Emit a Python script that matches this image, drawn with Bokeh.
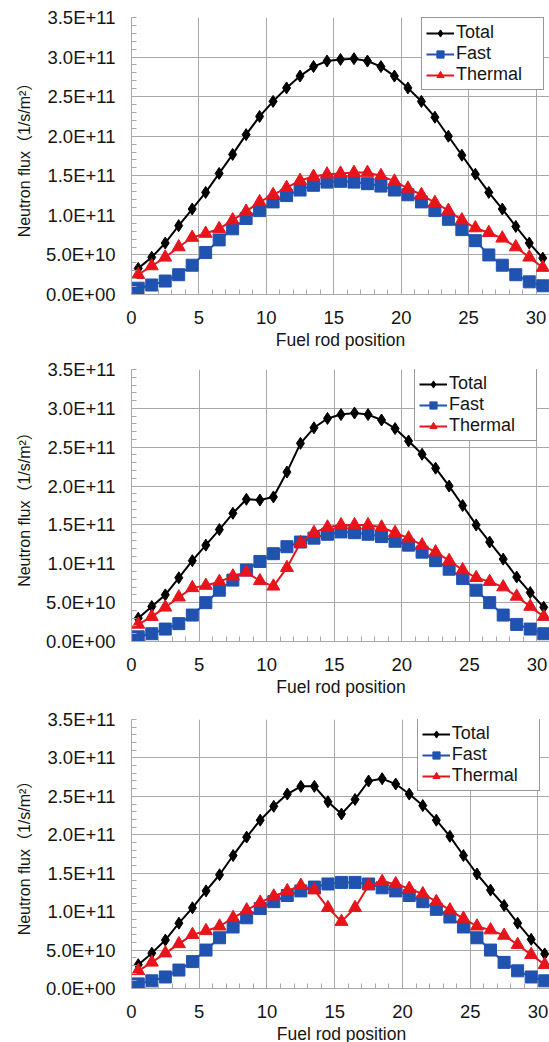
from bokeh.plotting import figure
from bokeh.layouts import column
from bokeh.models import Range1d, FixedTicker
from bokeh.embed import file_html
from bokeh.resources import INLINE

# ---------------- data ----------------
FLUX_UNIT = 1e11  # values below are in units of 1E+11 1/s/m^2

rod_positions = [0.5, 1.5, 2.5, 3.5, 4.5, 5.5, 6.5, 7.5, 8.5, 9.5,
                 10.5, 11.5, 12.5, 13.5, 14.5, 15.5, 16.5, 17.5, 18.5, 19.5,
                 20.5, 21.5, 22.5, 23.5, 24.5, 25.5, 26.5, 27.5, 28.5, 29.5, 30.5]

series_names = ["Total", "Fast", "Thermal"]

# Panel 1
total_1 = [0.33, 0.47, 0.65, 0.87, 1.08, 1.29, 1.53, 1.77, 2.02, 2.25,
           2.44, 2.61, 2.76, 2.88, 2.95, 2.97, 2.98, 2.95, 2.88, 2.76,
           2.61, 2.44, 2.24, 2.00, 1.76, 1.52, 1.29, 1.08, 0.86, 0.65, 0.46]
fast_1 = [0.08, 0.12, 0.17, 0.25, 0.37, 0.53, 0.69, 0.83, 0.96, 1.06,
          1.17, 1.25, 1.32, 1.38, 1.42, 1.43, 1.42, 1.40, 1.37, 1.32,
          1.26, 1.17, 1.06, 0.95, 0.82, 0.68, 0.50, 0.37, 0.25, 0.16, 0.11]
thermal_1 = [0.25, 0.36, 0.47, 0.60, 0.72, 0.77, 0.83, 0.94, 1.05, 1.17,
             1.26, 1.35, 1.44, 1.49, 1.52, 1.53, 1.54, 1.54, 1.50, 1.43,
             1.34, 1.26, 1.16, 1.06, 0.94, 0.84, 0.78, 0.71, 0.60, 0.47, 0.34]

# Panel 2
total_2 = [0.30, 0.45, 0.60, 0.82, 1.04, 1.24, 1.44, 1.65, 1.83, 1.82,
           1.86, 2.18, 2.55, 2.75, 2.87, 2.92, 2.94, 2.92, 2.85, 2.74,
           2.58, 2.41, 2.23, 2.00, 1.75, 1.50, 1.28, 1.06, 0.83, 0.63, 0.44]
fast_2 = [0.06, 0.10, 0.16, 0.23, 0.34, 0.50, 0.66, 0.79, 0.92, 1.03,
          1.13, 1.22, 1.28, 1.33, 1.38, 1.41, 1.40, 1.38, 1.35, 1.29,
          1.24, 1.15, 1.04, 0.93, 0.81, 0.66, 0.50, 0.34, 0.22, 0.16, 0.10]
thermal_2 = [0.22, 0.32, 0.44, 0.57, 0.69, 0.72, 0.77, 0.84, 0.89, 0.78,
             0.71, 0.95, 1.27, 1.40, 1.47, 1.50, 1.50, 1.50, 1.47, 1.40,
             1.33, 1.24, 1.15, 1.04, 0.92, 0.82, 0.77, 0.70, 0.58, 0.45, 0.32]

# Panel 3
total_3 = [0.31, 0.46, 0.63, 0.85, 1.05, 1.27, 1.48, 1.73, 1.97, 2.19,
           2.37, 2.53, 2.63, 2.63, 2.43, 2.27, 2.46, 2.70, 2.73, 2.66,
           2.53, 2.38, 2.19, 1.98, 1.73, 1.49, 1.28, 1.08, 0.85, 0.64, 0.45]
fast_3 = [0.06, 0.10, 0.15, 0.24, 0.35, 0.50, 0.66, 0.80, 0.92, 1.04,
          1.13, 1.21, 1.27, 1.32, 1.36, 1.38, 1.38, 1.36, 1.31, 1.27,
          1.21, 1.13, 1.03, 0.93, 0.80, 0.66, 0.50, 0.34, 0.23, 0.15, 0.10]
thermal_3 = [0.23, 0.34, 0.46, 0.58, 0.70, 0.75, 0.81, 0.92, 1.02, 1.12,
             1.20, 1.27, 1.34, 1.28, 1.05, 0.87, 1.05, 1.34, 1.39, 1.36,
             1.30, 1.23, 1.13, 1.02, 0.91, 0.81, 0.76, 0.69, 0.57, 0.44, 0.31]

x_ticks = [0, 5, 10, 15, 20, 25, 30]
x_tick_labels = ["0", "5", "10", "15", "20", "25", "30"]
y_ticks = [0.0, 0.5e11, 1.0e11, 1.5e11, 2.0e11, 2.5e11, 3.0e11, 3.5e11]
y_tick_labels = ["0.0E+00", "5.0E+10", "1.0E+11", "1.5E+11",
                 "2.0E+11", "2.5E+11", "3.0E+11", "3.5E+11"]

x_label = "Fuel rod position"
y_label = "Neutron flux\uff081/s/m\u00b2\uff09"

# ---------------- style ----------------
FONT = "Liberation Sans"
YLABEL_FONT = "'Liberation Sans', 'Noto Sans CJK JP', sans-serif"
GRID = "#a8a8a8"
TXT = "#151515"
colors = {"Total": "#000000", "Fast": "#2052b0", "Thermal": "#e8141c"}


def make_panel(total, fast, thermal, frame_w, frame_h, left, bottom, legend_xy):
    p = figure(frame_width=frame_w, frame_height=frame_h,
               x_range=Range1d(0, 31), y_range=Range1d(0, 3.5e11),
               output_backend="svg", toolbar_location=None,
               min_border_left=left, min_border_right=0,
               min_border_top=17, min_border_bottom=bottom)
    p.background_fill_color = "white"
    p.border_fill_color = "white"
    p.outline_line_color = None

    vals = {"Total": total, "Fast": fast, "Thermal": thermal}
    for name in series_names:
        ys = [v * FLUX_UNIT for v in vals[name]]
        c = colors[name]
        p.line(rod_positions, ys, line_color=c, line_width=2, legend_label=name)
        if name == "Total":
            p.scatter(rod_positions, ys, marker="diamond", size=12,
                      fill_color=c, line_color=c, legend_label=name)
        elif name == "Fast":
            p.scatter(rod_positions, ys, marker="square", size=12,
                      fill_color=c, line_color=c, legend_label=name)
        else:
            p.scatter(rod_positions, ys, marker="triangle", size=13,
                      fill_color=c, line_color=c, legend_label=name)

    # axes
    p.xaxis.ticker = FixedTicker(ticks=x_ticks, minor_ticks=list(range(0, 32)))
    p.xaxis.major_label_overrides = {t: l for t, l in zip(x_ticks, x_tick_labels)}
    p.yaxis.ticker = FixedTicker(ticks=y_ticks,
                                 minor_ticks=[i * 1e10 for i in range(0, 36)])
    p.yaxis.major_label_overrides = {t: l for t, l in zip(y_ticks, y_tick_labels)}

    for ax in (p.xaxis, p.yaxis):
        ax.axis_line_color = GRID
        ax.axis_line_width = 1
        ax.major_tick_in = 0
        ax.major_tick_out = 0
        ax.minor_tick_in = 5
        ax.minor_tick_out = 0
        ax.minor_tick_line_color = GRID
        ax.major_label_text_font = FONT
        ax.major_label_text_font_size = "18.5px"
        ax.major_label_text_color = TXT
        ax.axis_label_text_font_style = "normal"
        ax.axis_label_text_color = TXT

    p.xaxis.axis_label = x_label
    p.yaxis.axis_label = y_label
    p.xaxis.axis_label_text_font = FONT
    p.yaxis.axis_label_text_font = YLABEL_FONT
    p.xaxis.axis_label_text_font_size = "17.5px"
    p.yaxis.axis_label_text_font_size = "16px"
    p.xaxis.major_label_standoff = 16
    p.xaxis.axis_label_standoff = 3
    p.yaxis.major_label_standoff = 16
    p.yaxis.axis_label_standoff = 10

    p.xgrid.ticker = FixedTicker(ticks=x_ticks)
    p.ygrid.ticker = FixedTicker(ticks=y_ticks)
    for g in (p.xgrid, p.ygrid):
        g.grid_line_color = GRID
        g.grid_line_width = 1

    lg = p.legend[0]
    lg.location = legend_xy
    lg.margin = 0
    lg.padding = 4
    lg.spacing = 0
    lg.glyph_width = 28
    lg.glyph_height = 18
    lg.label_height = 18
    lg.label_width = 83
    lg.label_standoff = 2
    lg.label_text_font = FONT
    lg.label_text_font_size = "18px"
    lg.label_text_color = TXT
    lg.border_line_color = "#303030"
    lg.border_line_width = 1
    lg.background_fill_alpha = 1.0
    return p


p1 = make_panel(total_1, fast_1, thermal_1, 418, 277, 131, 56, (290, 204))
p2 = make_panel(total_2, fast_2, thermal_2, 419, 272, 130, 61, (292, 200))
p3 = make_panel(total_3, fast_3, thermal_3, 420, 269, 129, 56, (295, 197))

layout = column(p1, p2, p3, spacing=0)
open("out.html", "w").write(file_html(layout, INLINE))
